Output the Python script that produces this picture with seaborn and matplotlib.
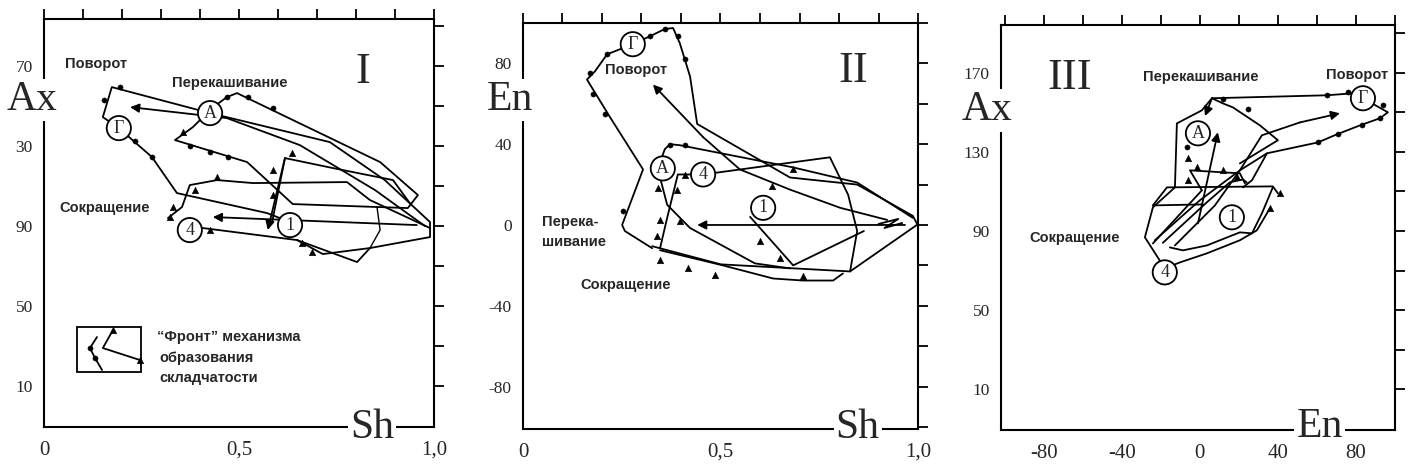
import matplotlib
matplotlib.use("Agg")
import matplotlib.pyplot as plt
from matplotlib.patches import Rectangle
import seaborn as sns

sns.set_theme(style="white")
plt.rcParams['font.family'] = ['Liberation Serif', 'DejaVu Serif']

SANS = ['Liberation Sans', 'DejaVu Sans']

# ---------------- panel I (Sh / Ax) ----------------
I_outline = [(0.631, 92), (0.572, 96.5), (0.341, 106.5), (0.277, 124.5), (0.192, 139), (0.151, 144.5),
             (0.174, 159.5), (0.426, 146.5), (0.733, 132), (0.874, 113), (0.99, 92), (0.99, 89)]
I_skew = [(0.431, 149), (0.382, 139.5), (0.336, 133), (0.521, 122), (0.638, 101), (0.933, 99),
          (0.959, 105.5), (0.862, 122), (0.495, 156.5), (0.469, 154.5), (0.431, 149)]
I_short_top = [(0.318, 94), (0.354, 99.5), (0.374, 110.5), (0.444, 113), (0.536, 111.5),
               (0.777, 112), (0.836, 103), (0.99, 89)]
I_short_low = [(0.374, 88), (0.408, 89), (0.649, 83), (0.803, 72), (0.836, 79), (0.99, 84.5), (0.99, 89)]
I_quad = [(0.649, 83), (0.715, 76), (0.836, 79)]
I_front = [(0.938, 101.5), (0.895, 113), (0.741, 119), (0.618, 124), (0.585, 92)]
I_curve = [(0.854, 99.5), (0.862, 88), (0.836, 79)]
I_arrows = [
    [(0.977, 90), (0.849, 108), (0.656, 130.5), (0.469, 144), (0.221, 149.5)],
    [(0.956, 90.5), (0.433, 94.5)],
    [(0.618, 124), (0.574, 88)],
]
I_dots = [(0.195, 159.5), (0.154, 153), (0.233, 132.5), (0.277, 124.5), (0.469, 154.5), (0.523, 154.5),
          (0.587, 149), (0.374, 130), (0.426, 127), (0.472, 124.5)]
I_tris = [(0.356, 137), (0.387, 108), (0.444, 114.5), (0.331, 99.5), (0.323, 94.5), (0.426, 88),
          (0.587, 118), (0.587, 105.5), (0.636, 126.5), (0.662, 81.5), (0.687, 77)]
I_circles = [('A', 0.426, 146.5), ('Г', 0.192, 139), ('4', 0.374, 88), ('1', 0.631, 90.5)]
I_texts = [('Поворот', 0.054, 171, 'left'), ('Перекашивание', 0.477, 161.5, 'center'),
           ('Сокращение', 0.156, 99, 'center')]
I_key_dots = [(0.136, 34.5), (0.118, 29), (0.131, 24), (0.149, 18)]
I_key_tris = [(0.177, 38), (0.151, 29), (0.246, 23)]

# ---------------- panel II (Sh / En) ----------------
II_outline = [(0.327, -11.5), (0.258, -3), (0.251, 0), (0.304, 27.5), (0.22, 53.5), (0.162, 72),
              (0.182, 76), (0.213, 84.5), (0.278, 89.5), (0.322, 93.5), (0.359, 97), (0.38, 97.5),
              (0.397, 90), (0.423, 73.5), (0.441, 50), (0.676, 23.5), (0.846, 20), (0.987, 4.5), (0.999, 0)]
II_short_a = [(0.327, -10.5), (0.501, -19.5), (0.828, -23), (0.997, 0)]
II_short_b = [(0.347, -12.5), (0.506, -20), (0.633, -26.5), (0.709, -27.5), (0.785, -27.5), (0.81, -24)]
II_skew = [(0.987, 3.5), (0.846, 21), (0.684, 28.5), (0.397, 39.5), (0.372, 40), (0.359, 37.5), (0.347, 31)]
II_skew_low = [(0.347, 23.5), (0.365, 10), (0.423, -1.5), (0.587, -19), (0.676, -21.5)]
II_four = [(0.347, -11.5), (0.365, 3.5), (0.392, 25), (0.456, 25), (0.777, 33.5), (0.823, 15),
           (0.846, -3), (0.828, -23)]
II_one = [(0.575, 4), (0.684, -20), (0.863, -3)]
II_zig = [(0.9, 0.5), (0.95, 3), (0.915, -1.5), (0.96, 1)]
II_arrows = [
    [(0.922, 2.5), (0.803, 8.5), (0.676, 17.5), (0.549, 27.5), (0.456, 43.5), (0.329, 69.5)],
    [(0.967, 0), (0.441, 0)],
]
II_dots = [(0.17, 75), (0.213, 84.5), (0.322, 93.5), (0.359, 97), (0.392, 93.5), (0.41, 82),
           (0.177, 65), (0.208, 55), (0.253, 7), (0.372, 39.5), (0.41, 39.5)]
II_tris = [(0.41, 24.5), (0.342, 18.5), (0.347, 2.5), (0.339, -5.5), (0.397, 2), (0.39, 17.5),
           (0.347, -17.5), (0.418, -21.5), (0.486, -25), (0.709, -25.5), (0.6, -8), (0.651, -16.5),
           (0.63, 19.5), (0.684, 27.5)]
II_circles = [('Г', 0.278, 89.5), ('A', 0.354, 28), ('4', 0.456, 25), ('1', 0.608, 8.5)]
II_texts = [('Поворот', 0.286, 76.5, 'center'), ('Перека-\nшивание', 0.048, -3.5, 'left'),
            ('Сокращение', 0.261, -29.5, 'center')]

# ---------------- panel III (En / Ax) ----------------
III_outline = [(-24.1, 101.9), (-12.8, 112), (-11.8, 144.3), (1, 150.9), (6.2, 157), (65.1, 158.5),
               (78.5, 159.5), (83.6, 157), (96.4, 149.9), (92.3, 146.9), (82.1, 143.3), (70.3, 138.8),
               (60.5, 134.7), (34.4, 129.2), (26.7, 115.6), (22.1, 112)]
III_skew = [(6.2, 157), (11.8, 154.4), (16.9, 152.4), (30.8, 143.3), (40, 135.8), (20.5, 124.1)]
III_horiz = [(-24.1, 102.9), (-16.9, 112), (37.4, 112.5), (40, 109)]
III_horiz2 = [(-24.1, 102.9), (1.5, 103.4)]
III_tri = [(1, 110.5), (-5.1, 120.6), (20.5, 119.1), (23.1, 114)]
III_right = [(37.4, 112), (31.8, 98.9), (26.7, 88.8), (20.5, 89.3), (3.6, 82.7), (-8.7, 80.2), (-15.4, 81.7)]
III_four = [(35.9, 101.4), (29.2, 90.3), (20.5, 85.3), (3.6, 78.7), (-10.3, 74.1), (-18, 71.1),
            (-28.2, 86.8), (-24.1, 101.9)]
III_bundle = [(-23.1, 85.3), (0, 105.5), (20.5, 120.6), (34.4, 129.2)]
III_inner = [(-19, 84), (3.6, 104.5), (15.4, 114.6), (22.1, 116), (24, 114.5)]
III_cross = [(-24.1, 83.7), (1, 110.5)]
III_arrows = [
    [(-12.8, 82.7), (7.7, 102.9), (20.5, 120.6), (31.8, 138.3), (51.3, 144.8), (71.8, 149.4)],
    [(-1, 93.8), (9.2, 139.8)],
    [(6.2, 157), (2.6, 148)],
]
III_dots = [(65.1, 158.5), (75.9, 160), (93.8, 153.4), (92.3, 146.9), (83.1, 143.3), (70.8, 138.8),
            (60.5, 134.7), (11.8, 156.5), (24.6, 151.4), (-6.7, 132.2)]
III_tris = [(-1.5, 122.1), (11.8, 120.6), (19, 117.1), (-6.2, 115.6), (41, 109), (35.9, 101.4), (-6.2, 126.7)]
III_circles = [('A', -1, 139.3), ('Г', 83.6, 157), ('1', 16.4, 96.9), ('4', -18, 69.1)]
III_texts = [('Перекашивание', 0.5, 167.6, 'center'), ('Поворот', 80.5, 168.6, 'center'),
             ('Сокращение', -64.1, 86.3, 'center')]

sh_ticks = [i / 10 for i in range(11)]
sh_labels = ['0', '', '', '', '', '0,5', '', '', '', '', '1,0']
ax_ticks = list(range(10, 200, 20))
I_ylabels = {10: '10', 50: '50', 90: '90', 130: '30', 170: '70'}
III_ylabels = {10: '10', 50: '50', 90: '90', 130: '130', 170: '170'}
en_ticks = list(range(-100, 101, 20))
en_labels = {-80: '-80', -40: '-40', 0: '0', 40: '40', 80: '80'}


def poly(ax, pts, lw=1.3):
    xs = [p[0] for p in pts]
    ys = [p[1] for p in pts]
    sns.lineplot(x=xs, y=ys, sort=False, estimator=None, color='black', lw=lw, ax=ax, legend=False)


def arrow(ax, pts):
    if len(pts) > 2:
        poly(ax, pts[:-1])
    ax.annotate('', xy=pts[-1], xytext=pts[-2],
                arrowprops=dict(arrowstyle='-|>', color='black', lw=1.3, mutation_scale=13,
                                shrinkA=0, shrinkB=0))


def marks(ax, dots, tris):
    sns.scatterplot(x=[p[0] for p in dots], y=[p[1] for p in dots], marker='o', s=14,
                    color='black', edgecolor='black', ax=ax, zorder=4, legend=False)
    sns.scatterplot(x=[p[0] for p in tris], y=[p[1] for p in tris], marker='^', s=22,
                    color='black', edgecolor='black', ax=ax, zorder=4, legend=False)


def circles(ax, items):
    for lab, x, y in items:
        ax.text(x, y, lab, ha='center', va='center', fontsize=13, zorder=6,
                bbox=dict(boxstyle='circle,pad=0.2', fc='white', ec='black', lw=1.3))


def labels(ax, items):
    for t, x, y, ha in items:
        ax.text(x, y, t, ha=ha, va='center', fontsize=10.5, family=SANS, fontweight='bold',
                linespacing=1.5, zorder=6)


def frame(ax, xticks, xlabels, yticks, ylabels):
    for s in ax.spines.values():
        s.set_visible(True)
        s.set_color('black')
        s.set_linewidth(1.5)
    ax.set_xticks(xticks)
    ax.set_xticklabels(xlabels)
    ax.set_yticks(yticks)
    ax.set_yticklabels(ylabels)
    ax.tick_params(axis='both', which='both', direction='out', length=7, width=1.3, color='black',
                   top=True, right=True, labeltop=False, labelright=False)
    ax.tick_params(axis='x', labelsize=15, pad=3)
    ax.tick_params(axis='y', labelsize=12.5, pad=1)
    ax.grid(False)
    ax.set_xlabel('')
    ax.set_ylabel('')


fig = plt.figure(figsize=(14.13, 4.71), dpi=100)
axI = fig.add_axes([0.0311, 0.0934, 0.276, 0.866])
axII = fig.add_axes([0.3701, 0.0892, 0.2796, 0.862])
axIII = fig.add_axes([0.7084, 0.087, 0.2788, 0.860])

# panel I
for pts in [I_outline, I_skew, I_short_top, I_short_low, I_quad, I_front]:
    poly(axI, pts)
poly(axI, I_curve, lw=1.0)
for pts in I_arrows:
    arrow(axI, pts)
marks(axI, I_dots, I_tris)
circles(axI, I_circles)
labels(axI, I_texts)
axI.add_patch(Rectangle((0.085, 17), 0.164, 22.5, fill=False, ec='black', lw=1.3))
poly(axI, I_key_dots)
poly(axI, I_key_tris)
marks(axI, I_key_dots[1:3], I_key_tris[:1] + I_key_tris[2:])
axI.text(0.29, 34.5, '\u201cФронт\u201d механизма', fontsize=10.5, family=SANS, fontweight='bold', va='center')
axI.text(0.295, 24, 'образования', fontsize=10.5, family=SANS, fontweight='bold', va='center')
axI.text(0.295, 14, 'складчатости', fontsize=10.5, family=SANS, fontweight='bold', va='center')
axI.text(0.818, 167, 'I', fontsize=32, ha='center', va='center')
axI.set_xlim(0, 1)
axI.set_ylim(-10.5, 193.5)
frame(axI, sh_ticks, sh_labels, ax_ticks, [I_ylabels.get(t, '') for t in ax_ticks])

# panel II
for pts in [II_outline, II_short_a, II_short_b, II_skew, II_skew_low, II_four, II_one, II_zig]:
    poly(axII, pts)
for pts in II_arrows:
    arrow(axII, pts)
marks(axII, II_dots, II_tris)
circles(axII, II_circles)
labels(axII, II_texts)
axII.text(0.835, 76, 'II', fontsize=32, ha='center', va='center')
axII.set_xlim(0, 1)
axII.set_ylim(-101, 100)
en_y = list(range(-100, 101, 20))
frame(axII, sh_ticks, sh_labels, en_y, [en_labels.get(t, '') for t in en_y])

# panel III
for pts in [III_outline, III_skew, III_horiz, III_horiz2, III_tri, III_right, III_four,
            III_bundle, III_inner, III_cross]:
    poly(axIII, pts)
for pts in III_arrows:
    arrow(axIII, pts)
marks(axIII, III_dots, III_tris)
circles(axIII, III_circles)
labels(axIII, III_texts)
axIII.text(-66.7, 167, 'III', fontsize=32, ha='center', va='center')
axIII.set_xlim(-102, 100)
axIII.set_ylim(-10.5, 194)
frame(axIII, en_ticks, [en_labels.get(t, '') for t in en_ticks], ax_ticks,
      [III_ylabels.get(t, '') for t in ax_ticks])

# big axis names breaking the frame
big = dict(fontsize=30, ha='center', va='center',
           bbox=dict(boxstyle='square,pad=0.05', fc='white', ec='none'))
fig.text(0.0226, 0.788, 'Ax', **big)
fig.text(0.2633, 0.0913, 'Sh', **big)
fig.text(0.361, 0.788, 'En', **big)
fig.text(0.607, 0.0913, 'Sh', **big)
fig.text(0.6985, 0.766, 'Ax', **big)
fig.text(0.934, 0.093, 'En', **big)

fig.savefig('out.png', dpi=100, facecolor='white')
